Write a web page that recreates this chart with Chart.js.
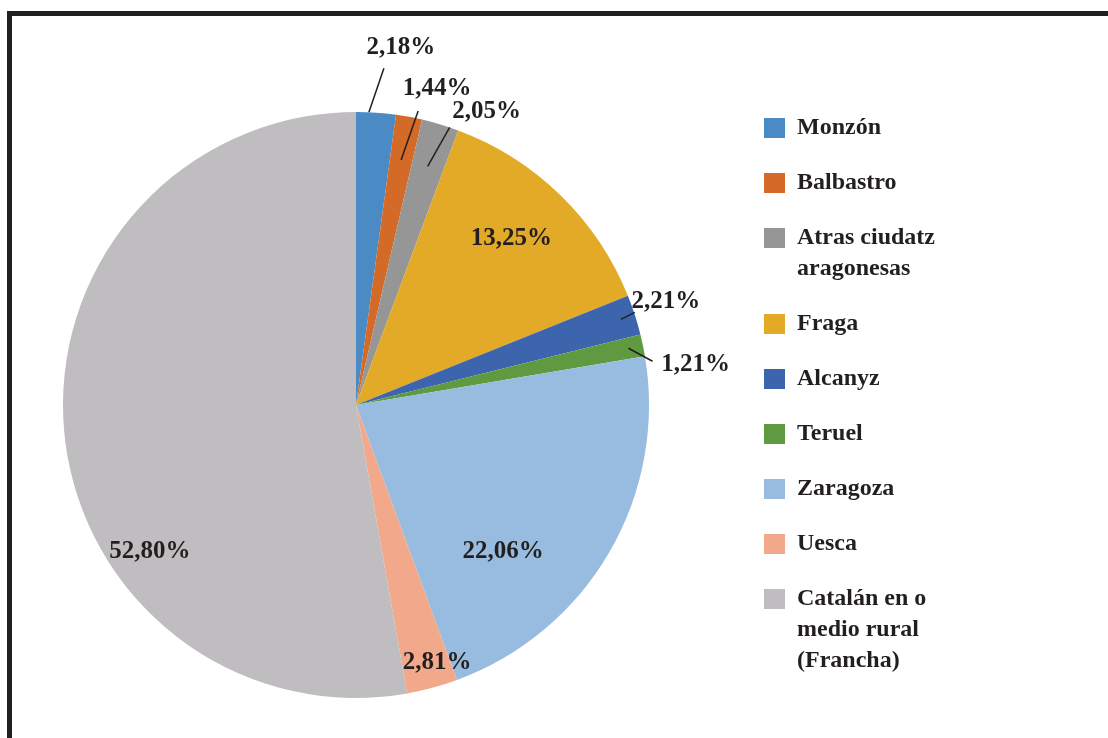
<!DOCTYPE html>
<html>
<head>
<meta charset="utf-8">
<script src="https://cdn.jsdelivr.net/npm/chart.js@4.4.1/dist/chart.umd.min.js"></script>
<style>
  html, body { margin: 0; padding: 0; background: #fff; overflow: hidden; }
  .frame {
    position: absolute; left: 7px; top: 11px; width: 1200px; height: 800px;
    border: 5px solid #231f20; box-sizing: border-box;
  }
  .wrap { position: absolute; left: 0; top: 0; width: 1108px; height: 738px; }
</style>
</head>
<body>
<div class="frame"></div>
<div class="wrap"><canvas id="pie" width="1108" height="738"></canvas></div>
<script>
// categories and shares (%)
const labels = [
  "Monzón", "Balbastro", ["Atras ciudatz", "aragonesas"], "Fraga", "Alcanyz",
  "Teruel", "Zaragoza", "Uesca", ["Catalán en o", "medio rural", "(Francha)"]
];
const shares = [2.18, 1.44, 2.05, 13.25, 2.21, 1.21, 22.06, 2.81, 52.80];
const colors = [
  "#4a8bc5", "#d46a28", "#969696", "#e2aa26", "#3c65ae",
  "#5f9a40", "#98bbe0", "#f2a98b", "#bfbdbf"
];

const FONT = "bold 24px 'Liberation Serif', 'DejaVu Serif', serif";
const LABEL_FONT = "bold 25px 'Liberation Serif', 'DejaVu Serif', serif";
const INK = "#231f20";

// label placement: anchor at f*radius on the slice mid-angle (+da degrees), text moved by dx/dy,
// leader line (if any) from anchor to text centre + (lx, ly)
const labelPlace = [
  { f: 1.0, da: -1.4, dx: 32, dy: -65, line: [-17, 21] },
  { f: 0.85, dx: 36, dy: -72, line: [-19, 23] },
  { f: 0.85, dx: 59, dy: -55, line: [-37, 16] },
  { f: 0.77, dx: -2, dy: -5 },
  { f: 0.95, dx: 45, dy: -18, line: [-31, 11] },
  { f: 0.95, dx: 67, dy: 16, line: [-43, -3] },
  { f: 0.6, dx: -5, dy: 58 },
  { f: 0.88, dx: 14, dy: 9 },
  { f: 0.6, dx: -31, dy: 131 }
];

const pieLabels = {
  id: "pieLabels",
  afterDatasetsDraw(chart) {
    const ctx = chart.ctx;
    const meta = chart.getDatasetMeta(0);
    ctx.save();
    ctx.font = LABEL_FONT;
    ctx.fillStyle = INK;
    ctx.strokeStyle = INK;
    ctx.lineWidth = 1.5;
    ctx.textAlign = "center";
    ctx.textBaseline = "middle";
    meta.data.forEach((arc, i) => {
      const p = labelPlace[i];
      const mid = (arc.startAngle + arc.endAngle) / 2 + (p.da || 0) * Math.PI / 180;
      const ax = arc.x + Math.cos(mid) * arc.outerRadius * p.f;
      const ay = arc.y + Math.sin(mid) * arc.outerRadius * p.f;
      const tx = ax + p.dx, ty = ay + p.dy;
      if (p.line) {
        ctx.beginPath();
        ctx.moveTo(ax, ay);
        ctx.lineTo(tx + p.line[0], ty + p.line[1]);
        ctx.stroke();
      }
      const txt = shares[i].toFixed(2).replace(".", ",") + "%";
      ctx.fillText(txt, tx, ty);
    });
    ctx.restore();
  }
};

const sideLegend = {
  id: "sideLegend",
  afterDraw(chart) {
    const ctx = chart.ctx;
    ctx.save();
    ctx.font = FONT;
    ctx.textBaseline = "middle";
    ctx.textAlign = "left";
    let y = 128;
    chart.data.labels.forEach((lab, i) => {
      const lines = Array.isArray(lab) ? lab : [lab];
      ctx.fillStyle = colors[i];
      ctx.fillRect(764, y - 10, 21, 20);
      ctx.fillStyle = INK;
      lines.forEach((ln, k) => ctx.fillText(ln, 797, y + k * 31));
      y += 55 + 31 * (lines.length - 1);
    });
    ctx.restore();
  }
};

new Chart(document.getElementById("pie"), {
  type: "pie",
  data: {
    labels: labels,
    datasets: [{
      data: shares,
      backgroundColor: colors,
      borderWidth: 0
    }]
  },
  options: {
    responsive: false,
    animation: false,
    layout: { padding: { left: 63, right: 459, top: 112, bottom: 40 } },
    plugins: {
      legend: { display: false },
      tooltip: { enabled: false }
    }
  },
  plugins: [pieLabels, sideLegend]
});
</script>
</body>
</html>
